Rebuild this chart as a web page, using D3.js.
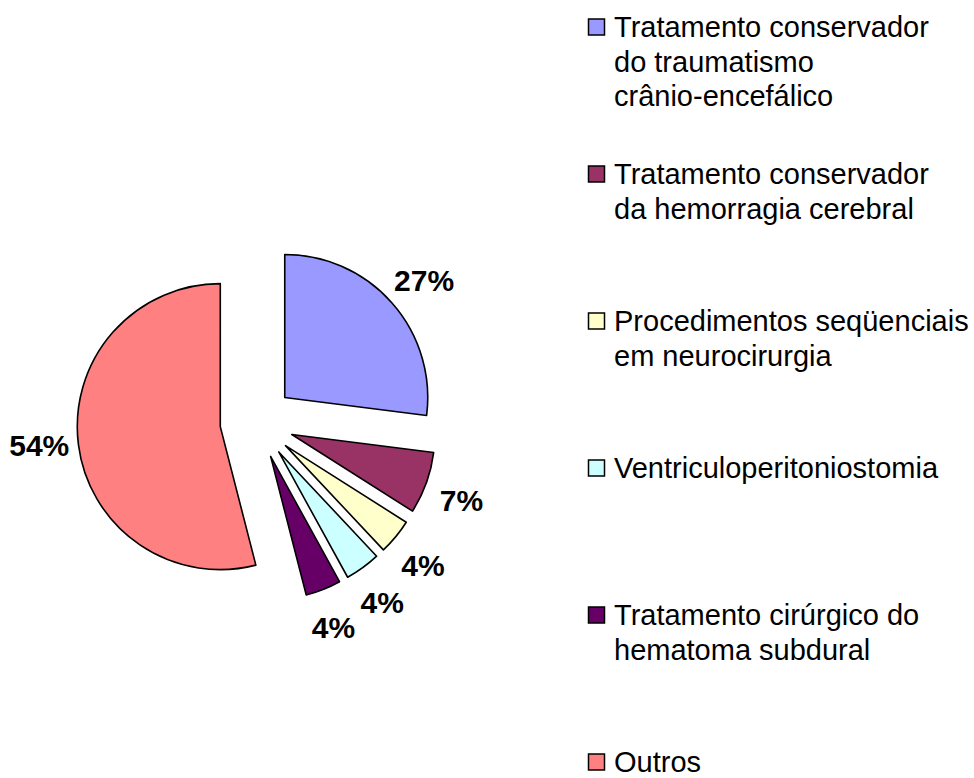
<!DOCTYPE html>
<html lang="pt">
<head>
  <meta charset="utf-8">
  <title>Procedimentos</title>
  <script src="https://d3js.org/d3.v7.min.js"></script>
  <style>
    body { margin: 0; background: #fff; }
    text { font-family: "Liberation Sans", Arial, sans-serif; }
  </style>
</head>
<body>
<div id="chart"></div>
<script>
// data
var categories = [
  ["Tratamento conservador", "do traumatismo", "crânio-encefálico"],
  ["Tratamento conservador", "da hemorragia cerebral"],
  ["Procedimentos seqüenciais", "em neurocirurgia"],
  ["Ventriculoperitoniostomia"],
  ["Tratamento cirúrgico do", "hematoma subdural"],
  ["Outros"]
];
var values = [27, 7, 4, 4, 4, 54];
var colors = ["#9999FF", "#993366", "#FFFFCC", "#CCFFFF", "#660066", "#FF8080"];

var width = 974, height = 778;
var cx = 257, cy = 422, radius = 143, explode = 37, labelR = 219;

var svg = d3.select("#chart").append("svg")
    .attr("width", width)
    .attr("height", height);

var pie = d3.pie().sort(null).value(function(d) { return d; });
var arcs = pie(values);

var arc = d3.arc().innerRadius(0).outerRadius(radius);
var labelArc = d3.arc().innerRadius(labelR).outerRadius(labelR);

var g = svg.append("g")
    .attr("transform", "translate(" + cx + "," + cy + ")");

// exploded slices
g.selectAll(".slice")
    .data(arcs)
  .enter().append("path")
    .attr("class", "slice")
    .attr("d", arc)
    .attr("fill", function(d, i) { return colors[i]; })
    .attr("stroke", "#000")
    .attr("stroke-width", 1.6)
    .attr("stroke-linejoin", "round")
    .attr("transform", function(d) {
      var a = (d.startAngle + d.endAngle) / 2;
      return "translate(" + (Math.sin(a) * explode) + "," + (-Math.cos(a) * explode) + ")";
    });

// percentage labels, nudged a little clockwise like the original
g.selectAll(".lbl")
    .data(arcs)
  .enter().append("text")
    .attr("class", "lbl")
    .attr("x", function(d) { return labelArc.centroid({startAngle: d.startAngle + 0.02, endAngle: d.endAngle + 0.02})[0]; })
    .attr("y", function(d) { return labelArc.centroid({startAngle: d.startAngle + 0.02, endAngle: d.endAngle + 0.02})[1]; })
    .attr("dy", "0.36em")
    .attr("text-anchor", "middle")
    .style("font-size", "30px")
    .style("font-weight", "bold")
    .text(function(d) { return d.value + "%"; });

// legend
var legend = svg.append("g").attr("transform", "translate(588,0)");
var item = legend.selectAll(".item")
    .data(categories)
  .enter().append("g")
    .attr("class", "item")
    .attr("transform", function(d, i) { return "translate(0," + (37 + i * 147) + ")"; });

item.append("rect")
    .attr("x", 0.5)
    .attr("y", -18)
    .attr("width", 16)
    .attr("height", 16)
    .attr("fill", function(d, i) { return colors[i]; })
    .attr("stroke", "#000")
    .attr("stroke-width", 1.5);

item.append("text")
    .style("font-size", "29px")
    .selectAll("tspan")
    .data(function(d) { return d; })
  .enter().append("tspan")
    .attr("x", 26)
    .attr("y", function(d, j) { return j * 34.5; })
    .text(function(d) { return d; });
</script>
</body>
</html>
